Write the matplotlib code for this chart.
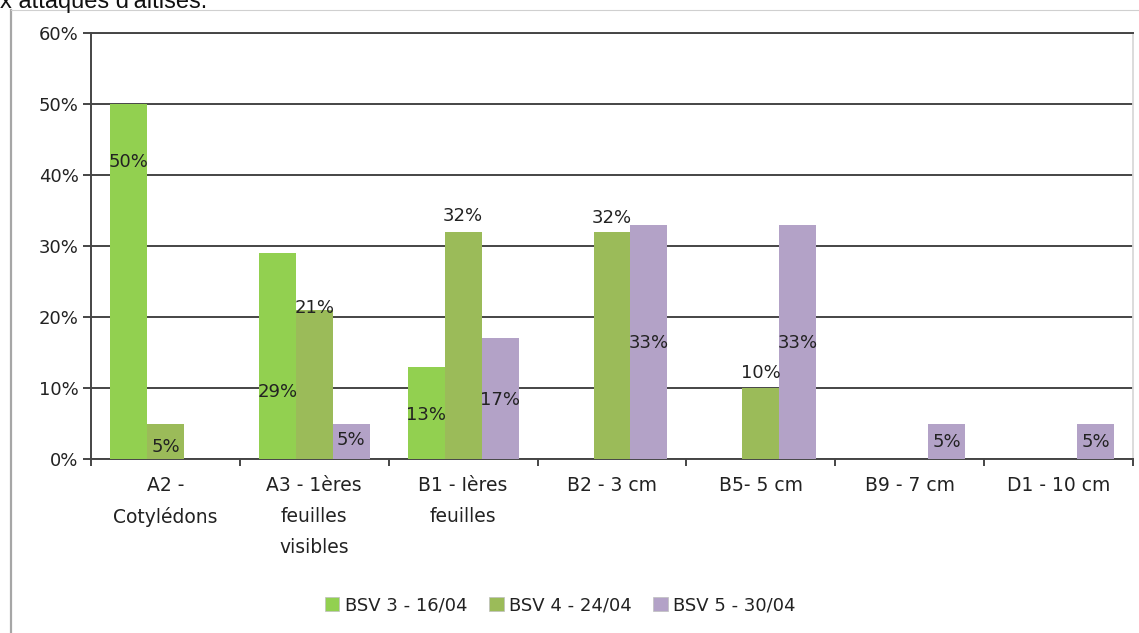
import matplotlib.pyplot as plt
import numpy as np
from matplotlib.lines import Line2D
from matplotlib.patches import Patch

plt.rcParams["font.family"] = "DejaVu Sans"

categories = [
    "A2 -\nCotylédons",
    "A3 - 1ères\nfeuilles\nvisibles",
    "B1 - Ières\nfeuilles",
    "B2 - 3 cm",
    "B5- 5 cm",
    "B9 - 7 cm",
    "D1 - 10 cm",
]
series_names = ["BSV 3 - 16/04", "BSV 4 - 24/04", "BSV 5 - 30/04"]
bsv3 = [50, 29, 13, 0, 0, 0, 0]
bsv4 = [5, 21, 32, 32, 10, 0, 0]
bsv5 = [0, 5, 17, 33, 33, 5, 5]
yticks = [0, 10, 20, 30, 40, 50, 60]

# labels were placed by hand in the original: (series, category, height in %)
label_spots = [
    (0, 0, 41.8), (0, 1, 9.4), (0, 2, 6.2),
    (1, 0, 1.7), (1, 1, 21.3), (1, 2, 34.2), (1, 3, 33.9), (1, 4, 12.1),
    (2, 1, 2.7), (2, 2, 8.3), (2, 3, 16.3), (2, 4, 16.3), (2, 5, 2.4), (2, 6, 2.4),
]

colors = ["#92D050", "#9BBB59", "#B3A2C7"]
grid_color = "#454545"
text_color = "#222222"
fs = 13

fig = plt.figure(figsize=(11.39, 6.33), dpi=100)
ax = fig.add_axes([91 / 1139, 1 - 459 / 633, 1042 / 1139, 426 / 633])

x = np.arange(len(categories))
width = 0.248
all_series = [bsv3, bsv4, bsv5]
for i, values in enumerate(all_series):
    ax.bar(x + (i - 1) * width, values, width=width, color=colors[i], zorder=3, linewidth=0)

for s, c, y in label_spots:
    ax.text(x[c] + (s - 1) * width, y, f"{all_series[s][c]}%", ha="center", va="center",
            fontsize=fs, color=text_color, zorder=4)

ax.set_xlim(-0.5, len(categories) - 0.5)
ax.set_ylim(0, 60)
ax.set_yticks(yticks)
ax.set_yticklabels([f"{v}%" for v in yticks], fontsize=fs, color=text_color)
ax.tick_params(axis="y", length=6, width=1.4, color=grid_color, pad=3)

ax.set_xticks(np.arange(len(categories) + 1) - 0.5)
ax.set_xticklabels([])
ax.tick_params(axis="x", which="major", length=5, width=1.4, color=grid_color, direction="out")
ax.set_xticks(x, minor=True)
ax.set_xticklabels(categories, minor=True, fontsize=13.5, color=text_color, linespacing=1.8)
ax.tick_params(axis="x", which="minor", length=0, pad=12)

ax.grid(True, axis="y", color=grid_color, linewidth=1.4, zorder=1)
ax.set_axisbelow(True)
for side in ["left", "bottom", "top"]:
    ax.spines[side].set_color(grid_color)
    ax.spines[side].set_linewidth(1.4)
ax.spines["right"].set_color("#d9d9d9")
ax.spines["right"].set_linewidth(1.3)

handles = [Patch(facecolor=c, edgecolor="#bfbfbf", linewidth=0.5) for c in colors]
fig.legend(handles, series_names, loc="center", bbox_to_anchor=(0.492, 0.044), ncol=3,
           frameon=False, fontsize=fs, handlelength=0.8, handleheight=0.8,
           handletextpad=0.3, columnspacing=1.2, labelcolor=text_color)

# outer frame of the pasted chart
fig.add_artist(Line2D([11 / 1139, 11 / 1139], [0, 1 - 10 / 633], color="#a6a6a6",
                      linewidth=1.6, transform=fig.transFigure))
fig.add_artist(Line2D([11 / 1139, 1], [1 - 10 / 633, 1 - 10 / 633], color="#d0d0d0",
                      linewidth=0.8, transform=fig.transFigure))
# caption above the chart is cropped at the top edge in the source
fig.text(0.0, 1 - 8 / 633, "x attaques d'altises.", fontsize=17, family="Liberation Sans",
         va="baseline", ha="left", color="#111111")

fig.savefig("out.png", dpi=100, facecolor="white")
